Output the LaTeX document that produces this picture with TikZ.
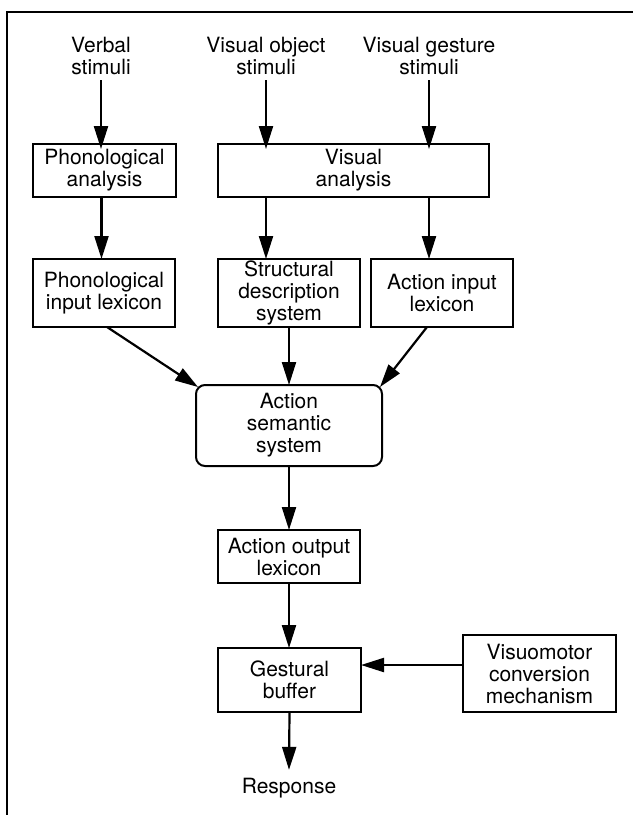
\documentclass[tikz,border=0pt]{standalone}
\usepackage{fontspec}
\setmainfont{TeX Gyre Heros}
\usetikzlibrary{arrows.meta}
\tikzset{
  lbl/.style={font=\fontsize{21}{22}\selectfont, align=center, inner sep=0pt},
  box/.style={lbl, draw, line width=2pt, inner sep=0pt, outer sep=0pt},
  rbox/.style={box, rounded corners=9pt},
  arr/.style={line width=2.2pt, -{Triangle[length=23pt,width=14pt]}},
  frame/.style={line width=2.8pt}
}
\begin{document}
\begin{tikzpicture}[x=1pt,y=-1pt]
\useasboundingbox (0,0) rectangle (633,815);
\draw[frame] (7,815) -- (7,12) -- (633,12);

\node[lbl] (verbal) at (101,56) {Verbal\\stimuli};
\node[lbl] (vobj) at (266,56) {Visual object\\stimuli};
\node[lbl] (vges) at (429,56) {Visual gesture\\stimuli};

\node[box, minimum width=143pt, minimum height=53pt] (phana) at (104.5,170.5) {Phonological\\analysis};
\node[box, minimum width=271pt, minimum height=53pt] (visana) at (353.5,170.5) {Visual\\analysis};

\node[box, minimum width=142pt, minimum height=68pt] (pil) at (104,293) {Phonological\\input lexicon};
\node[box, minimum width=142pt, minimum height=68pt] (sds) at (289,293) {Structural\\description\\system};
\node[box, minimum width=142pt, minimum height=68pt] (ail) at (442,293) {Action input\\lexicon};

\node[rbox, minimum width=186pt, minimum height=81pt] (ass) at (289,425.5) {Action\\semantic\\system};

\node[box, minimum width=142pt, minimum height=53pt] (aol) at (289,556.5) {Action output\\lexicon};
\node[box, minimum width=143pt, minimum height=64pt] (gb) at (289.5,680) {Gestural\\buffer};
\node[box, minimum width=153pt, minimum height=77pt] (vm) at (539.5,673.5) {Visuomotor\\conversion\\mechanism};

\node[lbl] (resp) at (289,788) {Response};

\draw[arr] ([yshift=-5pt]verbal.south) -- ([yshift=-5pt]verbal.south |- phana.north);
\draw[arr] ([yshift=-5pt]vobj.south) -- ([yshift=-5pt]vobj.south |- visana.north);
\draw[arr] ([yshift=-5pt]vges.south) -- ([yshift=-5pt]vges.south |- visana.north);

\draw[arr] ([xshift=-3pt]phana.south) -- ([xshift=-3pt]phana.south |- pil.north);
\draw[arr] (vobj.south |- visana.south) -- (vobj.south |- sds.north);
\draw[arr] (vges.south |- visana.south) -- (vges.south |- ail.north);

\draw[arr] ([xshift=3pt]pil.south) -- ([shift={(2pt,-2pt)}]ass.north west);
\draw[arr] (sds.south) -- (ass.north);
\draw[arr] ([xshift=-15pt]ail.south) -- ([shift={(-2pt,-2pt)}]ass.north east);

\draw[arr] (ass.south) -- (aol.north);
\draw[arr] (aol.south) -- (aol.south |- gb.north);
\draw[arr] ([yshift=8.5pt]vm.west) -- ([yshift=8.5pt]vm.west -| gb.east);
\draw[arr] (gb.south) -- ([yshift=8pt]resp.north);
\end{tikzpicture}
\end{document}
